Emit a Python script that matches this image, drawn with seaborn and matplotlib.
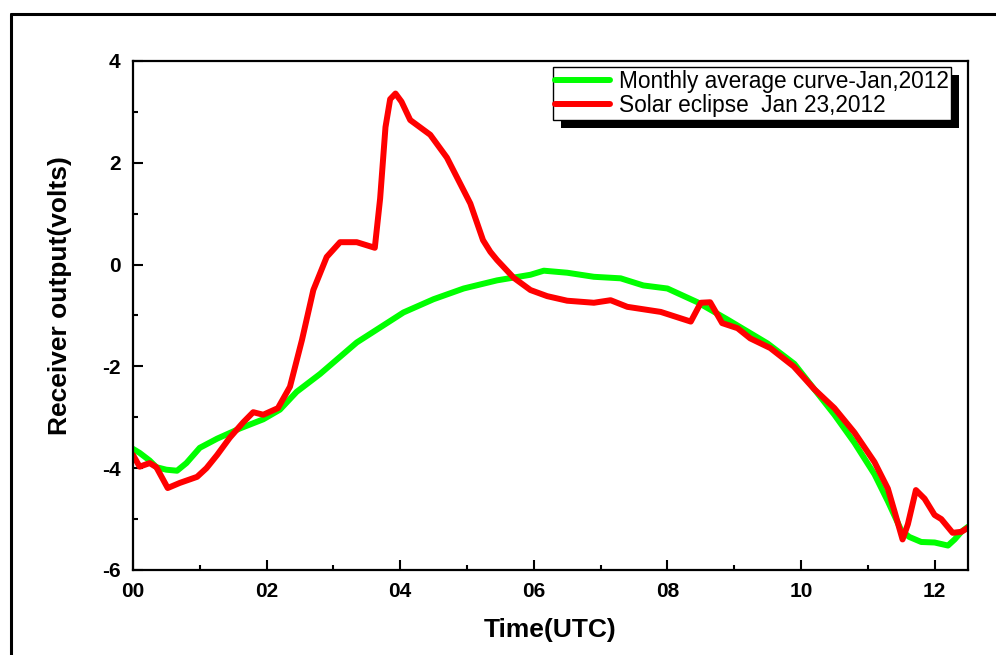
import matplotlib
matplotlib.use("Agg")
import matplotlib.pyplot as plt
import pandas as pd
import seaborn as sns
from matplotlib.lines import Line2D
from matplotlib.patches import Rectangle

# monthly average curve, Jan 2012 (hour UTC, volts)
avg_hours = [0.0, 0.1, 0.25, 0.35, 0.5, 0.66, 0.8, 1.0, 1.26, 1.6, 1.95, 2.2,
             2.45, 2.8, 3.35, 4.05, 4.5, 4.95, 5.45, 5.95, 6.15, 6.5, 6.9,
             7.3, 7.64, 8.0, 8.45, 8.9, 9.5, 9.9, 10.2, 10.5, 10.8, 11.1,
             11.3, 11.5, 11.62, 11.8, 12.0, 12.2, 12.3, 12.4, 12.5]
avg_volts = [-3.62, -3.7, -3.85, -3.98, -4.03, -4.05, -3.9, -3.6, -3.42, -3.22,
             -3.04, -2.85, -2.5, -2.15, -1.53, -0.94, -0.68, -0.47, -0.31,
             -0.2, -0.12, -0.16, -0.24, -0.27, -0.41, -0.47, -0.74, -1.08,
             -1.55, -1.95, -2.45, -2.95, -3.5, -4.12, -4.65, -5.22, -5.35,
             -5.45, -5.46, -5.52, -5.4, -5.25, -5.15]

# solar eclipse day, Jan 23 2012
ecl_hours = [0.0, 0.1, 0.25, 0.35, 0.52, 0.7, 0.96, 1.1, 1.26, 1.45, 1.65, 1.8,
             1.95, 2.17, 2.35, 2.53, 2.7, 2.9, 3.1, 3.35, 3.62, 3.7, 3.78,
             3.85, 3.93, 4.02, 4.15, 4.45, 4.7, 5.05, 5.24, 5.35, 5.45, 5.7,
             5.95, 6.2, 6.5, 6.9, 7.15, 7.4, 7.9, 8.35, 8.5, 8.64, 8.82, 9.05,
             9.24, 9.54, 9.89, 10.2, 10.5, 10.8, 11.1, 11.3, 11.4, 11.52, 11.6,
             11.72, 11.85, 12.0, 12.1, 12.27, 12.4, 12.5]
ecl_volts = [-3.74, -3.97, -3.9, -3.98, -4.39, -4.29, -4.17, -4.0, -3.74, -3.4,
             -3.1, -2.9, -2.95, -2.82, -2.4, -1.48, -0.5, 0.15, 0.44, 0.44,
             0.33, 1.3, 2.7, 3.25, 3.36, 3.2, 2.84, 2.55, 2.1, 1.2, 0.48, 0.25,
             0.09, -0.26, -0.5, -0.62, -0.71, -0.75, -0.7, -0.83, -0.93, -1.12,
             -0.75, -0.74, -1.15, -1.25, -1.45, -1.64, -2.0, -2.45, -2.82,
             -3.3, -3.88, -4.4, -4.85, -5.4, -5.1, -4.43, -4.6, -4.92, -5.0,
             -5.27, -5.25, -5.17]

x_ticks = [0, 2, 4, 6, 8, 10, 12]
x_tick_labels = ["00", "02", "04", "06", "08", "10", "12"]
y_ticks = [-6, -4, -2, 0, 2, 4]
y_tick_labels = ["-6", "-4", "-2", "0", "2", "4"]

series_labels = ["Monthly average curve-Jan,2012", "Solar eclipse  Jan 23,2012"]


def build_frame() -> pd.DataFrame:
    """Stack both curves into one long table for seaborn."""
    avg = pd.DataFrame({"hour": avg_hours, "volts": avg_volts,
                        "series": series_labels[0]})
    ecl = pd.DataFrame({"hour": ecl_hours, "volts": ecl_volts,
                        "series": series_labels[1]})
    return pd.concat([avg, ecl], ignore_index=True)


def main():
    sns.set_style("white")
    plt.rcParams["font.family"] = ["Liberation Sans", "DejaVu Sans"]
    plt.rcParams["text.color"] = "black"
    plt.rcParams["axes.labelcolor"] = "black"

    df = build_frame()
    fig = plt.figure(figsize=(9.96, 6.55), dpi=100)
    ax = fig.add_axes([0.1335, 0.1298, 0.8384, 0.7771])

    sns.lineplot(data=df, x="hour", y="volts", hue="series", sort=False,
                 estimator=None,
                 palette={series_labels[0]: "#00ff00", series_labels[1]: "#ff0000"},
                 linewidth=4.3, ax=ax)

    ax.set_xlim(0, 12.5)
    ax.set_ylim(-6, 4)
    ax.set_xticks(x_ticks)
    ax.set_xticklabels(x_tick_labels)
    ax.set_xticks([1, 3, 5, 7, 9, 11], minor=True)
    ax.set_yticks(y_ticks)
    ax.set_yticklabels(y_tick_labels)
    ax.set_yticks([-5, -3, -1, 1, 3], minor=True)
    ax.tick_params(which="both", direction="in", bottom=True, left=True,
                   top=False, right=False, width=1.5, colors="black")
    ax.tick_params(which="major", length=7, pad=9, labelsize=15)
    ax.tick_params(which="minor", length=3.5)
    for lab in ax.get_xticklabels() + ax.get_yticklabels():
        lab.set_fontweight("bold")

    for sp in ax.spines.values():
        sp.set_visible(True)
        sp.set_color("black")
        sp.set_linewidth(1.6)

    ax.set_xlabel("Time(UTC)", fontsize=19, fontweight="bold", color="black")
    ax.set_ylabel("Receiver output(volts)", fontsize=19, fontweight="bold",
                  color="black")
    ax.xaxis.set_label_coords(0.5, -0.095)
    ax.yaxis.set_label_coords(-0.073, 0.54)

    handles = [Line2D([], [], color="#00ff00", lw=4.3),
               Line2D([], [], color="#ff0000", lw=4.3)]
    leg = ax.legend(handles, series_labels, loc="upper right",
                    bbox_to_anchor=(0.98, 0.988), borderaxespad=0,
                    fontsize=16.3, frameon=True, fancybox=False,
                    handlelength=2.4, handletextpad=0.4, borderpad=0.12,
                    labelspacing=0.05)
    leg.get_frame().set_edgecolor("black")
    leg.get_frame().set_linewidth(1.0)
    leg.get_frame().set_alpha(1)
    for t in leg.get_texts():
        t.set_color("black")

    # hard black drop shadow behind the legend box
    fig.canvas.draw()
    bb = leg.get_window_extent()
    off = 8
    sb = bb.translated(off, -off).transformed(ax.transAxes.inverted())
    ax.add_patch(Rectangle((sb.x0, sb.y0), sb.width, sb.height,
                           transform=ax.transAxes, facecolor="black",
                           edgecolor="none", zorder=4.5, clip_on=False))

    # outer frame of the original figure
    fig.add_artist(Line2D([0.011, 0.011], [0.0, 0.979], color="black",
                          lw=2.2, transform=fig.transFigure))
    fig.add_artist(Line2D([0.011, 1.0], [0.979, 0.979], color="black",
                          lw=2.2, transform=fig.transFigure))

    fig.savefig("out.png", dpi=100)


if __name__ == "__main__":
    main()
